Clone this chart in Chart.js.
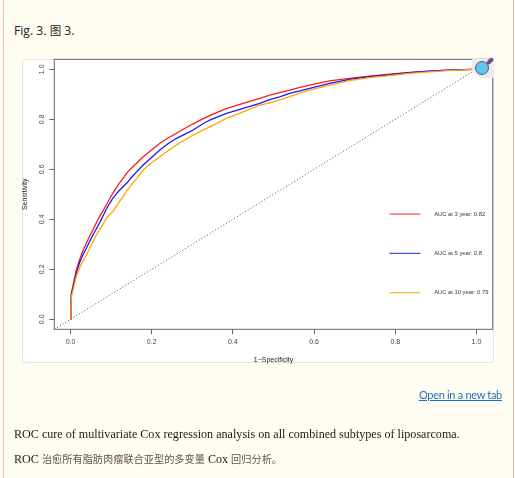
<!DOCTYPE html>
<html><head><meta charset="utf-8">
<script src="https://cdn.jsdelivr.net/npm/chart.js@4"></script>
<style>
html,body{margin:0;padding:0;width:515px;height:478px;overflow:hidden;background:#fffdf1;}
#frame{position:absolute;left:3px;top:-5px;width:511px;height:490px;border-left:1px solid #ebbba5;border-right:1px solid #ebbba5;box-sizing:border-box;}
.t{position:absolute;white-space:nowrap;}
#fig{left:14px;top:22px;font-family:'Open Sans',sans-serif;font-size:12.2px;line-height:17px;color:#222;}
#fig .cjk{font-family:'Noto Sans CJK SC';font-size:11.5px;}
#card{position:absolute;left:22px;top:59px;width:472px;height:304px;background:#fff;border:1px solid #e4e4e4;border-radius:4px;box-sizing:border-box;}
#chartwrap{position:absolute;left:0;top:0;width:515px;height:478px;}
#magbg{position:absolute;left:472px;top:59px;width:22px;height:19px;background:#ececec;border-radius:0 4px 0 12px;}
#lens{position:absolute;left:475px;top:61px;width:12px;height:12px;border:1.6px solid #6a4a8c;border-radius:50%;background:#5ec8ea;}
#handle{position:absolute;left:487.7px;top:56.5px;width:3.5px;height:8px;background:#6f4a8e;border-radius:2px;transform:rotate(45deg);}
#open{right:13px;top:386px;font-family:'Lato',sans-serif;font-size:11px;letter-spacing:-0.3px;line-height:18px;color:#1f6fb8;text-decoration:underline;}
#cap1{left:14px;top:425px;font-family:'Liberation Serif',serif;font-size:12.1px;line-height:18px;color:#1a1a1a;}
#cap2{left:14px;top:450px;font-family:'Liberation Serif',serif;font-size:12.1px;line-height:18px;color:#1a1a1a;}
#cap2 .cjk{font-family:'Noto Sans CJK SC';font-size:10.2px;color:#555;}
</style></head>
<body>
<div id="frame"></div>
<div id="fig" class="t">Fig. 3. <span class="cjk">图</span> 3.</div>
<div id="card"></div>
<div id="chartwrap"><canvas id="c"></canvas></div>
<div id="magbg"></div><div id="handle"></div><div id="lens"></div>
<div id="open" class="t">Open in a new tab</div>
<div id="cap1" class="t">ROC cure of multivariate Cox regression analysis on all combined subtypes of liposarcoma.</div>
<div id="cap2" class="t">ROC <span class="cjk">治愈所有脂肪肉瘤联合亚型的多变量</span> Cox <span class="cjk">回归分析。</span></div>
<script>
// ---- data ----
const fpr = [0,0.001,0.002,0.006,0.014,0.022,0.030,0.039,0.047,0.055,0.063,0.071,0.080,0.088,0.096,0.104,0.112,0.120,0.130,0.139,0.151,0.163,0.179,0.196,0.220,0.240,0.261,0.282,0.302,0.322,0.343,0.364,0.384,0.405,0.425,0.446,0.466,0.491,0.515,0.540,0.565,0.589,0.614,0.638,0.663,0.687,0.736,0.786,0.835,0.884,0.930,0.970,0.990,1.0];
const tpr3yr = [0,0.06,0.104,0.135,0.197,0.237,0.272,0.304,0.332,0.357,0.384,0.410,0.434,0.457,0.481,0.504,0.524,0.544,0.566,0.586,0.606,0.625,0.650,0.672,0.704,0.725,0.744,0.764,0.782,0.799,0.815,0.830,0.843,0.854,0.864,0.874,0.884,0.897,0.907,0.917,0.928,0.937,0.946,0.954,0.959,0.964,0.973,0.981,0.988,0.993,0.997,0.999,1.0,1.0];
const tpr5yr = [0,0.05,0.10,0.125,0.184,0.225,0.256,0.284,0.311,0.337,0.360,0.384,0.413,0.440,0.463,0.484,0.500,0.515,0.531,0.546,0.569,0.590,0.617,0.642,0.677,0.702,0.724,0.741,0.757,0.778,0.797,0.811,0.824,0.834,0.844,0.854,0.864,0.879,0.890,0.904,0.914,0.924,0.934,0.944,0.952,0.960,0.971,0.978,0.987,0.993,0.997,0.999,1.0,1.0];
const tpr10yr = [0,0.04,0.09,0.115,0.170,0.205,0.232,0.257,0.284,0.310,0.334,0.357,0.381,0.404,0.418,0.430,0.450,0.470,0.493,0.515,0.540,0.563,0.597,0.622,0.650,0.674,0.697,0.718,0.737,0.754,0.770,0.787,0.804,0.817,0.830,0.844,0.857,0.866,0.878,0.891,0.905,0.917,0.927,0.937,0.946,0.955,0.967,0.975,0.984,0.990,0.995,0.998,1.0,1.0];
const seriesLabels = ['AUC at 3 year: 0.82','AUC at 5 year: 0.8','AUC at 10 year: 0.79'];
const refLine = [-0.04, 1.04];
const xTicks = [0,0.2,0.4,0.6,0.8,1.0];
const yTicks = [0,0.2,0.4,0.6,0.8,1.0];
const xTitle = '1\u2212Specificity';
const yTitle = 'Sensitivity';

const pts = arr => fpr.map((x,i)=>({x:x,y:arr[i]}));
const colors = ['#ff1a1a','#1a1aff','#ffa500'];

const decor = {
  id:'decor',
  afterDraw(chart){
    const {ctx, chartArea:a, scales:{x,y}} = chart;
    ctx.save();
    ctx.strokeStyle = '#666'; ctx.lineWidth = 1;
    ctx.strokeRect(a.left, a.top, a.right-a.left, a.bottom-a.top);
    // y tick labels (rotated)
    ctx.fillStyle = '#444';
    ctx.font = '7px "Liberation Sans"';
    ctx.textAlign = 'center'; ctx.textBaseline = 'middle';
    y.ticks.forEach(t=>{
      const py = y.getPixelForValue(t.value);
      ctx.save(); ctx.translate(a.left-12.5, py); ctx.rotate(-Math.PI/2);
      ctx.fillText(t.value.toFixed(1), 0, 0); ctx.restore();
    });
    // legend
    const rowsY = [0.421, 0.264, 0.106];
    ctx.font = '5.8px "Liberation Sans"';
    ctx.textAlign = 'left';
    chart.data.datasets.forEach((ds,i)=>{
      if (i>2) return;
      const py = y.getPixelForValue(rowsY[i]);
      ctx.strokeStyle = ds.borderColor; ctx.lineWidth = 1;
      ctx.beginPath(); ctx.moveTo(x.getPixelForValue(0.786), py); ctx.lineTo(x.getPixelForValue(0.862), py); ctx.stroke();
      ctx.fillStyle = '#333';
      ctx.fillText(ds.label, x.getPixelForValue(0.896), py);
    });
    ctx.restore();
  }
};

new Chart(document.getElementById('c'), {
  type:'line',
  data:{datasets:[
    {label:seriesLabels[0], data:pts(tpr3yr), borderColor:colors[0], borderWidth:1.3, pointRadius:0, tension:0, order:3},
    {label:seriesLabels[1], data:pts(tpr5yr), borderColor:colors[1], borderWidth:1.3, pointRadius:0, tension:0, order:2},
    {label:seriesLabels[2], data:pts(tpr10yr), borderColor:colors[2], borderWidth:1.3, pointRadius:0, tension:0, order:1},
    {label:'ref', data:refLine.map(v=>({x:v,y:v})), borderColor:'#666', borderWidth:1, borderDash:[1.2,2], pointRadius:0, order:4}
  ]},
  options:{
    responsive:true, maintainAspectRatio:false, animation:false,
    layout:{padding:{left:20.8, right:22.3, top:59.3, bottom:113.7}},
    plugins:{legend:{display:false}, tooltip:{enabled:false}},
    scales:{
      x:{type:'linear', min:-0.04, max:1.04,
        afterBuildTicks:s=>{s.ticks = xTicks.map(v=>({value:v}));},
        afterFit:s=>{s.height = 35;},
        ticks:{callback:v=>Number(v).toFixed(1), font:{family:'Liberation Sans', size:7}, color:'#444', padding:3.5, maxRotation:0, autoSkip:false},
        grid:{drawOnChartArea:false, drawTicks:true, tickLength:5, tickColor:'#666', color:'#666'},
        border:{display:false},
        title:{display:true, text:xTitle, font:{family:'Liberation Sans', size:7}, color:'#222', padding:0}
      },
      y:{type:'linear', min:-0.04, max:1.04,
        afterBuildTicks:s=>{s.ticks = yTicks.map(v=>({value:v}));},
        afterFit:s=>{s.width = 33.5;},
        ticks:{display:false},
        grid:{drawOnChartArea:false, drawTicks:true, tickLength:5, tickColor:'#666', color:'#666'},
        border:{display:false},
        title:{display:true, text:yTitle, font:{family:'Liberation Sans', size:7}, color:'#222', padding:0}
      }
    }
  },
  plugins:[decor]
});
</script>
</body></html>
